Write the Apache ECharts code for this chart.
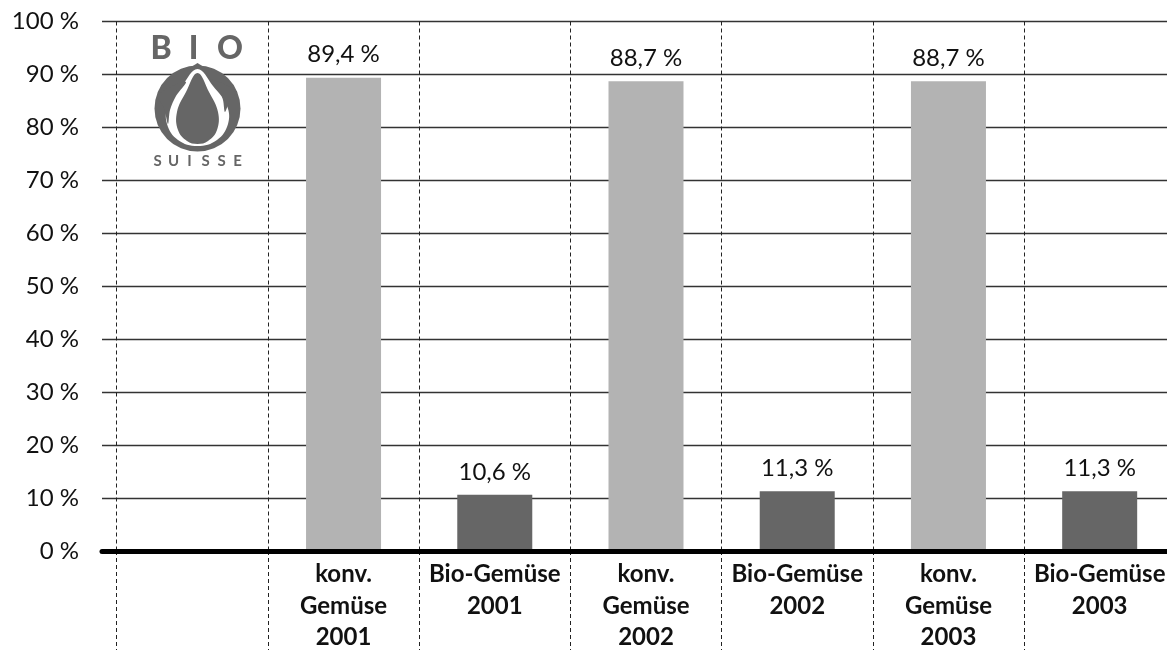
<!DOCTYPE html>
<html>
<head>
<meta charset="utf-8">
<script src="https://cdn.jsdelivr.net/npm/echarts@6/dist/echarts.min.js"></script>
<style>
html,body{margin:0;padding:0;background:#fff;}
#chart{width:1167px;height:650px;}
</style>
</head>
<body>
<div id="chart"></div>
<script>
// ---- data ----
var categories = ['', 'konv.\nGemüse\n2001', 'Bio-Gemüse\n2001', 'konv.\nGemüse\n2002', 'Bio-Gemüse\n2002', 'konv.\nGemüse\n2003', 'Bio-Gemüse\n2003'];
var shares = [null, 89.4, 10.6, 88.7, 11.3, 88.7, 11.3];
var kinds = ['', 'konv', 'bio', 'konv', 'bio', 'konv', 'bio'];
var yTicks = [0, 10, 20, 30, 40, 50, 60, 70, 80, 90, 100];
var logoTop = ['B', 'I', 'O'];
var logoBottom = ['S', 'U', 'I', 'S', 'S', 'E'];

var kindColor = { konv: '#b3b3b3', bio: '#666666' };
var FONT = 'Lato, "Open Sans", sans-serif';

var chart = echarts.init(document.getElementById('chart'));

var barData = shares.map(function (v, i) {
  return { value: v, itemStyle: { color: kindColor[kinds[i]] || '#999' } };
});

var logoGraphics = [];
var topX = [161, 193.5, 230];
logoTop.forEach(function (ch, i) {
  logoGraphics.push({
    type: 'text', x: topX[i], y: 49,
    style: { text: ch, fill: '#666', font: '900 32px ' + FONT, textAlign: 'center', textVerticalAlign: 'middle' }
  });
});
logoBottom.forEach(function (ch, i) {
  logoGraphics.push({
    type: 'text', x: 157.5 + i * 16, y: 161,
    style: { text: ch, fill: '#666', font: 'bold 15px ' + FONT, textAlign: 'center', textVerticalAlign: 'middle' }
  });
});
logoGraphics.push({ type: 'circle', z: 10, shape: { cx: 197.5, cy: 108.5, r: 43 }, style: { fill: '#666' } });
logoGraphics.push({ type: 'polygon', z: 10, shape: { points: [[188, 69], [197.5, 63], [207, 69]] }, style: { fill: '#666' } });
logoGraphics.push({
  type: 'polygon', z: 11,
  shape: { smooth: 0.4, points: [[197.5, 69], [182, 86], [168, 106], [167, 124], [178, 140], [197.5, 146], [217, 140], [228, 124], [227, 106], [213, 86]] },
  style: { fill: '#fff' }
});
logoGraphics.push({
  type: 'polygon', z: 12,
  shape: { smooth: 0.4, points: [[197.5, 73], [186, 92], [177, 112], [178, 130], [187, 141], [197.5, 144], [208, 141], [217, 130], [218, 112], [209, 92]] },
  style: { fill: '#666' }
});
logoGraphics.push({
  type: 'polygon', z: 12,
  shape: { smooth: 0.3, points: [[158, 96], [172, 86], [186, 82], [176, 96], [170, 110], [168, 124], [164, 108]] },
  style: { fill: '#666' }
});
logoGraphics.push({
  type: 'polygon', z: 12,
  shape: { smooth: 0.3, points: [[237, 92], [224, 84], [210, 80], [219, 90], [223, 100], [225, 112], [230, 100]] },
  style: { fill: '#666' }
});

var option = {
  animation: false,
  backgroundColor: '#fff',
  textStyle: { fontFamily: FONT },
  grid: [
    { left: 102, right: 0, top: 21.5, bottom: 99, outerBoundsMode: 'none', containLabel: false },
    { left: 116.7, width: 1058.6, top: 21.5, bottom: 99, outerBoundsMode: 'none', containLabel: false }
  ],
  xAxis: [
    {
      gridIndex: 0, type: 'value', min: 0, max: 1, z: 10,
      axisLine: { show: true, lineStyle: { color: '#000', width: 5 } },
      axisTick: { show: false }, axisLabel: { show: false }, splitLine: { show: false }
    },
    {
      gridIndex: 1, type: 'category', data: categories,
      axisLine: { show: false },
      axisTick: { show: true, length: 100, inside: false, lineStyle: { color: '#222', width: 1, type: [4, 3] } },
      splitLine: { show: true, lineStyle: { color: '#222', width: 1, type: [4, 3] } },
      axisLabel: { interval: 0, margin: 8, fontSize: 24, fontWeight: 'bold', lineHeight: 31.5, color: '#111', fontFamily: FONT }
    }
  ],
  yAxis: [
    {
      gridIndex: 0, type: 'value', min: yTicks[0], max: yTicks[yTicks.length - 1], interval: 10,
      axisLine: { show: false }, axisTick: { show: false },
      axisLabel: { formatter: '{value} %', fontSize: 24, color: '#111', margin: 23, fontFamily: FONT },
      splitLine: { show: true, lineStyle: { color: '#333', width: 1.3 } }
    },
    {
      gridIndex: 1, type: 'value', min: 0, max: 100, show: false,
      splitLine: { show: false }
    }
  ],
  series: [{
    type: 'bar', xAxisIndex: 1, yAxisIndex: 1,
    data: barData, barWidth: 75,
    label: {
      show: true, position: 'top', distance: 11, fontSize: 24, color: '#111', fontFamily: FONT,
      formatter: function (p) { return p.value == null ? '' : p.value.toFixed(1).replace('.', ',') + ' %'; }
    }
  }],
  graphic: logoGraphics
};
chart.setOption(option);
</script>
</body>
</html>
